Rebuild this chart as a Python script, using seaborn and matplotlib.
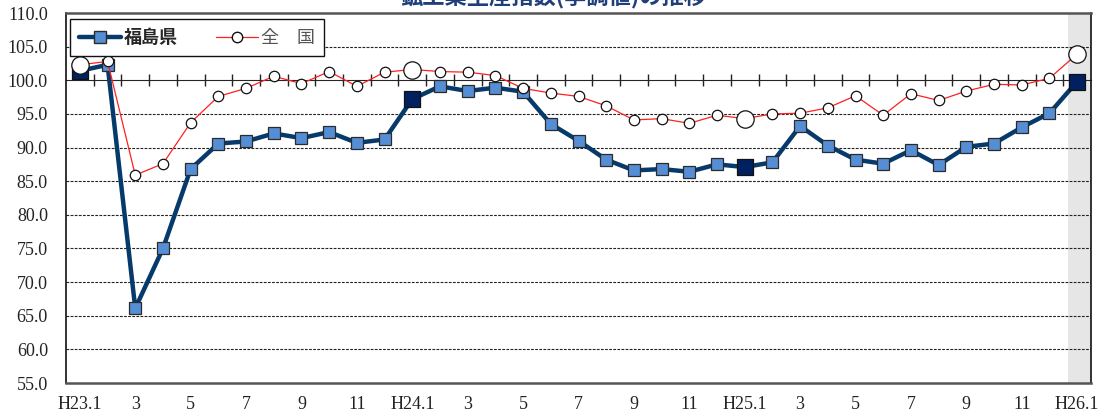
import matplotlib
matplotlib.use("Agg")
import matplotlib.pyplot as plt
import seaborn as sns
import pandas as pd
import numpy as np
from matplotlib.lines import Line2D

# ---------- data ----------
periods = [
    "H23.1", "2", "3", "4", "5", "6", "7", "8", "9", "10", "11", "12",
    "H24.1", "2", "3", "4", "5", "6", "7", "8", "9", "10", "11", "12",
    "H25.1", "2", "3", "4", "5", "6", "7", "8", "9", "10", "11", "12",
    "H26.1",
]
fukushima = [
    101.4, 102.3, 66.1, 75.0, 86.8, 90.6, 90.9, 92.1, 91.4, 92.3, 90.7, 91.2,
    97.2, 99.1, 98.4, 98.9, 98.3, 93.5, 91.0, 88.2, 86.6, 86.8, 86.4, 87.5,
    87.1, 87.8, 93.2, 90.3, 88.2, 87.6, 89.6, 87.4, 90.1, 90.6, 93.0, 95.1,
    99.8,
]
national = [
    102.3, 102.8, 85.9, 87.6, 93.7, 97.6, 98.8, 100.6, 99.5, 101.3, 99.1, 101.2,
    101.6, 101.3, 101.2, 100.7, 98.8, 98.1, 97.6, 96.2, 94.1, 94.3, 93.6, 94.8,
    94.3, 95.0, 95.1, 95.9, 97.7, 94.8, 98.0, 97.0, 98.4, 99.4, 99.3, 100.3,
    103.9,
]
y_ticks = [55, 60, 65, 70, 75, 80, 85, 90, 95, 100, 105, 110]
title = "鉱工業生産指数(季調値)の推移"
label_fk = "福島県"
label_nat = "全\u3000国"

df = pd.DataFrame({"period": periods, "fukushima": fukushima, "national": national})
df["idx"] = range(len(df))
df["is_jan"] = df["period"].str.startswith("H")
jan = df[df["is_jan"]]

# ---------- style ----------
sns.set_style("white")
plt.rcParams["font.family"] = ["Noto Sans CJK JP", "DejaVu Sans"]
serif = ["Liberation Serif", "DejaVu Serif"]

navy_line = "#053a6b"
sq_fill = "#558ed5"
sq_jan = "#002060"
red = "#ff2020"

fig = plt.figure(figsize=(11.04, 4.15), dpi=100)
ax = fig.add_axes([66 / 1104, 32 / 415, 1025 / 1104, 370 / 415])

# shaded latest month
ax.axvspan(len(df) - 1.32, len(df) - 0.5, color="#e6e6e6", zorder=0, lw=0)

sns.lineplot(
    data=df, x="idx", y="fukushima", ax=ax, color=navy_line, linewidth=3.2,
    marker="s", markersize=9, markerfacecolor=sq_fill, markeredgecolor="#2b2b2b",
    markeredgewidth=0.9, zorder=3, legend=False,
)
sns.scatterplot(
    data=jan, x="idx", y="fukushima", ax=ax, marker="s", s=12 ** 2,
    color=sq_jan, edgecolor="#111111", linewidth=0.9, zorder=4, legend=False,
)
sns.lineplot(
    data=df, x="idx", y="national", ax=ax, color=red, linewidth=0.9,
    marker="o", markersize=7.5, markerfacecolor="white", markeredgecolor="#111111",
    markeredgewidth=0.9, zorder=5, legend=False,
)
sns.scatterplot(
    data=jan, x="idx", y="national", ax=ax, marker="o", s=12.5 ** 2,
    color="white", edgecolor="#111111", linewidth=0.9, zorder=6, legend=False,
)

# axes
ax.set_xlim(-0.5, len(df) - 0.5)
ax.set_ylim(y_ticks[0], y_ticks[-1])
ax.set_yticks(y_ticks)
ax.set_yticklabels([f"{v:.1f}" for v in y_ticks], family=serif, fontsize=13, color="#222222")
ax.set_xticks(df["idx"][::2])
ax.set_xticklabels(df["period"][::2], family=serif, fontsize=13, color="#222222")
ax.tick_params(axis="x", length=0, pad=9)
ax.tick_params(axis="y", length=0, pad=13)
ax.set_xlabel("")
ax.set_ylabel("")

for yv in y_ticks[1:-1]:
    if yv == 100:
        continue
    ax.axhline(yv, color="#222222", lw=0.8, ls=(0, (2.5, 1.2)), zorder=1)

for side in ["top", "bottom"]:
    ax.spines[side].set_linestyle((0, (2, 1)))
    ax.spines[side].set_color("#555555")
    ax.spines[side].set_linewidth(1.8)
for side in ["left", "right"]:
    ax.spines[side].set_color("#111111")
    ax.spines[side].set_linewidth(1.2)

# horizontal axis crossing at 100 with category boundary ticks
cross = (100 - y_ticks[0]) / (y_ticks[-1] - y_ticks[0])
secax = ax.secondary_xaxis(cross)
secax.set_xticks(np.arange(0.5, len(df) - 1, 1.0))
secax.set_xticklabels([])
secax.tick_params(axis="x", direction="inout", length=9, width=1, color="#222222",
                  labelbottom=False, labeltop=False)
secax.spines["bottom"].set_color("#111111")
secax.spines["bottom"].set_linewidth(1.2)

# legend
handles = [
    Line2D([], [], color=navy_line, lw=3.2, marker="s", markersize=9,
           markerfacecolor=sq_fill, markeredgecolor="#2b2b2b"),
    Line2D([], [], color=red, lw=0.9, marker="o", markersize=7.5,
           markerfacecolor="white", markeredgecolor="#111111"),
]
leg = fig.legend(
    handles, [label_fk, label_nat], loc="upper left", ncol=2,
    bbox_to_anchor=(70 / 1104, 1 - 19 / 415), bbox_transform=fig.transFigure,
    frameon=True, fancybox=False, framealpha=1, edgecolor="#111111",
    fontsize=13, handlelength=2.3, handletextpad=0.2, columnspacing=2.1,
    borderpad=0.5, borderaxespad=0,
)
leg.get_frame().set_linewidth(1.0)
leg.get_texts()[0].set_fontweight("bold")
leg.get_texts()[1].set_color("#555555")

# title, cut off at the top edge like the reference
fig.text(554 / 1104, 1 - 3 / 415, title, ha="center", va="baseline",
         fontsize=16, fontweight="bold", color="#1f3f7a")

fig.savefig("out.png", dpi=100)
